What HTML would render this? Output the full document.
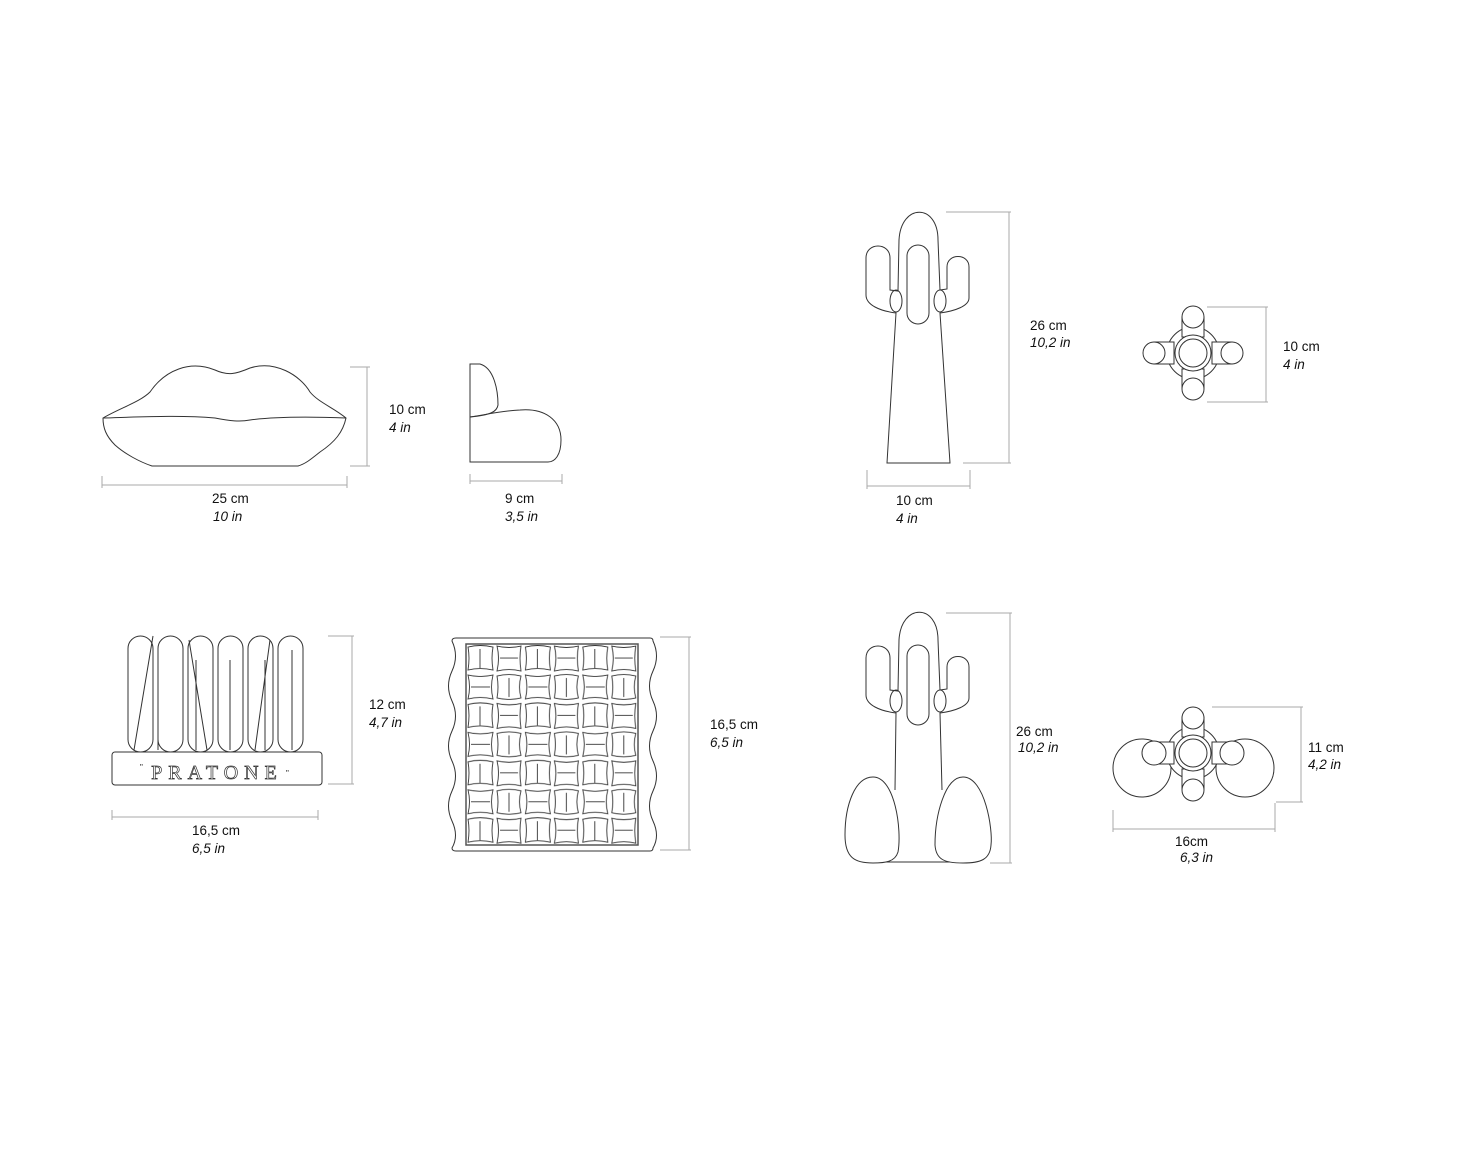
<!DOCTYPE html>
<html><head><meta charset="utf-8"><style>
html,body{margin:0;padding:0;background:#fff}
svg{display:block}
text{font-family:"Liberation Sans",sans-serif;font-size:13.5px;fill:#111}
.i{font-style:italic}
.s{fill:none;stroke:#333;stroke-width:1}
.d{fill:none;stroke:#aaa;stroke-width:1}
</style></head><body>
<svg width="1477" height="1152" viewBox="0 0 1477 1152">
<defs>
<pattern id="cells" x="466" y="644" width="57.4" height="57.4" patternUnits="userSpaceOnUse">
 <g fill="none" stroke="#333" stroke-width="0.9">
  <path d="M2,3 Q14,0 27,3 Q25,14 27,26 Q14,23 2,26 Q4,14 2,3Z"/><line x1="14" y1="5" x2="14" y2="24"/>
  <path d="M31,2 Q43,5 55,2 Q53,14 55,27 Q43,24 31,27 Q34,14 31,2Z"/><line x1="34" y1="14" x2="52" y2="14"/>
  <path d="M2,31 Q14,34 27,31 Q24,43 27,55 Q14,52 2,55 Q5,43 2,31Z"/><line x1="5" y1="43" x2="24" y2="43"/>
  <path d="M31,32 Q43,29 55,32 Q52,43 55,54 Q43,57 31,54 Q33,43 31,32Z"/><line x1="43" y1="34" x2="43" y2="53"/>
 </g>
</pattern>
</defs>

<!-- Lips -->
<path class="s" d="M103,418 C120,408 140,402 150,392 C165,370 190,360 215,370 C228,376 236,374 250,368 C275,360 300,375 310,392 C318,402 334,408 346,418 C343,432 335,442 320,452 C310,460 305,464 298,466 L152,466 C140,462 125,454 115,445 C106,436 103,428 103,418Z"/>
<path class="s" d="M103,418 C140,417 180,415 215,418 C230,421 240,422 250,420 C280,416 320,417 346,418"/>
<line class="d" x1="367" y1="367" x2="367" y2="466"/><line class="d" x1="350" y1="367" x2="370" y2="367"/><line class="d" x1="350" y1="466" x2="370" y2="466"/>
<line class="d" x1="102" y1="485" x2="347" y2="485"/><line class="d" x1="102" y1="476" x2="102" y2="488"/><line class="d" x1="347" y1="476" x2="347" y2="488"/>
<text x="389" y="414">10 cm</text><text x="389" y="432" class="i">4 in</text>
<text x="212" y="503">25 cm</text><text x="213" y="521" class="i">10 in</text>

<!-- Chair -->
<path class="s" d="M470,417 L470,364 L480,364 C494,368 498,390 498,405 C497,412 490,415 470,417Z"/>
<path class="s" d="M470,417 C490,414 500,411 520,410 C545,408 561,420 561,440 C561,455 555,462 548,462 L470,462Z"/>
<line class="d" x1="470" y1="481" x2="562" y2="481"/><line class="d" x1="470" y1="474" x2="470" y2="484"/><line class="d" x1="562" y1="474" x2="562" y2="484"/>
<text x="505" y="503">9 cm</text><text x="505" y="521" class="i">3,5 in</text>

<!-- Cactus 1 -->
<path class="s" d="M887,463 L896,313 C880,311 866,305 866,295 L866,258 C866,242 890,242 890,258 L890,290 L898,291 L899,240 C901,203 938,203 938,240 L940,290 L947,289 L947,267 C947,253 969,253 969,267 L969,298 C969,306 955,311 940,313 L950,463Z"/>
<ellipse class="s" cx="896" cy="301" rx="6" ry="11"/><ellipse class="s" cx="940" cy="301" rx="6" ry="11"/>
<rect class="s" x="907" y="245" width="22" height="79" rx="11"/>
<line class="d" x1="1009" y1="212" x2="1009" y2="463"/><line class="d" x1="946" y1="212" x2="1011" y2="212"/><line class="d" x1="963" y1="463" x2="1011" y2="463"/>
<line class="d" x1="867" y1="486" x2="970" y2="486"/><line class="d" x1="867" y1="470" x2="867" y2="489"/><line class="d" x1="970" y1="470" x2="970" y2="489"/>
<text x="1030" y="330">26 cm</text><text x="1030" y="347" class="i">10,2 in</text>
<text x="896" y="505">10 cm</text><text x="896" y="523" class="i">4 in</text>

<!-- Top view 1 -->
<g class="s">
<circle cx="1193" cy="353" r="26"/>
<rect x="1182" y="317" width="22" height="20" fill="#fff"/><rect x="1182" y="369" width="22" height="20" fill="#fff"/>
<rect x="1154" y="342" width="20" height="22" fill="#fff"/><rect x="1212" y="342" width="20" height="22" fill="#fff"/>
<circle cx="1193" cy="353" r="18" fill="#fff"/><circle cx="1193" cy="353" r="14"/>
<circle cx="1193" cy="317" r="11" fill="#fff"/><circle cx="1193" cy="389" r="11" fill="#fff"/>
<circle cx="1154" cy="353" r="11" fill="#fff"/><circle cx="1232" cy="353" r="11" fill="#fff"/>
</g>
<line class="d" x1="1266" y1="307" x2="1266" y2="402"/><line class="d" x1="1207" y1="307" x2="1268" y2="307"/><line class="d" x1="1207" y1="402" x2="1268" y2="402"/>
<text x="1283" y="351">10 cm</text><text x="1283" y="369" class="i">4 in</text>

<!-- Pratone -->
<g class="s">
<rect x="128" y="636" width="25" height="116" rx="12.5"/>
<rect x="158" y="636" width="25" height="116" rx="12.5"/>
<rect x="188" y="636" width="25" height="116" rx="12.5"/>
<rect x="218" y="636" width="25" height="116" rx="12.5"/>
<rect x="248" y="636" width="25" height="116" rx="12.5"/>
<rect x="278" y="636" width="25" height="116" rx="12.5"/>
<path d="M153,636 L134,750 M189,640 L207,750 M158,650 L158,750 M230,660 L230,750 M270,640 L255,750 M265,660 L265,750 M292,650 L292,750 M196,660 L196,750"/>
<rect x="112" y="752" width="210" height="33" rx="3" fill="#fff"/>
</g>
<text x="217" y="779" text-anchor="middle" style="font-family:'Liberation Serif',serif;font-size:20px;letter-spacing:6px;fill:none;stroke:#333;stroke-width:0.7">PRATONE</text>
<text x="140" y="770" style="font-size:8px">"</text><text x="286" y="776" style="font-size:8px">"</text>
<line class="d" x1="352" y1="636" x2="352" y2="784"/><line class="d" x1="328" y1="636" x2="354" y2="636"/><line class="d" x1="328" y1="784" x2="354" y2="784"/>
<line class="d" x1="112" y1="817" x2="318" y2="817"/><line class="d" x1="112" y1="810" x2="112" y2="820"/><line class="d" x1="318" y1="810" x2="318" y2="820"/>
<text x="369" y="709">12 cm</text><text x="369" y="727" class="i">4,7 in</text>
<text x="192" y="835">16,5 cm</text><text x="192" y="853" class="i">6,5 in</text>

<!-- Grid piece -->
<path class="s" d="M456,638 L650,638 Q653,638 653,641 Q660,656 653,671 Q646,686 653,701 Q660,716 653,731 Q646,746 653,761 Q660,776 653,791 Q646,806 653,821 Q660,836 653,848 Q653,851 650,851 L456,851 Q452,851 452,848 Q459,836 452,821 Q445,806 452,791 Q459,776 452,761 Q445,746 452,731 Q459,716 452,701 Q445,686 452,671 Q459,656 452,641 Q452,638 456,638Z"/>
<rect x="466" y="644" width="172" height="201" fill="url(#cells)" stroke="#555" stroke-width="1.5"/>
<line class="d" x1="689" y1="637" x2="689" y2="850"/><line class="d" x1="660" y1="637" x2="691" y2="637"/><line class="d" x1="660" y1="850" x2="691" y2="850"/>
<text x="710" y="729">16,5 cm</text><text x="710" y="747" class="i">6,5 in</text>

<!-- Cactus 2 -->
<path class="s" d="M895,790 L896,713 C880,711 866,705 866,695 L866,658 C866,642 890,642 890,658 L890,690 L898,691 L899,640 C901,603 938,603 938,640 L940,690 L947,689 L947,667 C947,653 969,653 969,667 L969,698 C969,706 955,711 940,713 L942,790"/>
<line class="s" x1="886" y1="862" x2="950" y2="862"/>
<ellipse class="s" cx="896" cy="701" rx="6" ry="11"/><ellipse class="s" cx="940" cy="701" rx="6" ry="11"/>
<rect class="s" x="907" y="645" width="22" height="80" rx="11"/>
<path class="s" d="M873,777 C895,777 902,830 898,852 C895,862 885,863 873,863 C855,863 845,858 845,835 C845,805 855,777 873,777Z" fill="#fff"/>
<path class="s" d="M963,777 C985,777 993,830 991,845 C990,860 980,863 963,863 C945,863 936,860 935,845 C935,815 945,777 963,777Z" fill="#fff"/>
<line class="d" x1="1010" y1="613" x2="1010" y2="863"/><line class="d" x1="946" y1="613" x2="1012" y2="613"/><line class="d" x1="990" y1="863" x2="1012" y2="863"/>
<text x="1016" y="736">26 cm</text><text x="1018" y="752" class="i">10,2 in</text>

<!-- Top view 2 -->
<g class="s">
<circle cx="1142" cy="768" r="29"/><circle cx="1245" cy="768" r="29"/>
<circle cx="1193" cy="753" r="26" fill="#fff"/>
<rect x="1182" y="717" width="22" height="20" fill="#fff"/><rect x="1182" y="769" width="22" height="20" fill="#fff"/>
<rect x="1154" y="742" width="20" height="22" fill="#fff"/><rect x="1212" y="742" width="20" height="22" fill="#fff"/>
<circle cx="1193" cy="753" r="18" fill="#fff"/><circle cx="1193" cy="753" r="14"/>
<circle cx="1193" cy="718" r="11" fill="#fff"/><circle cx="1193" cy="790" r="11" fill="#fff"/>
<circle cx="1154" cy="753" r="12" fill="#fff"/><circle cx="1232" cy="753" r="12" fill="#fff"/>
</g>
<line class="d" x1="1301" y1="707" x2="1301" y2="802"/><line class="d" x1="1212" y1="707" x2="1303" y2="707"/><line class="d" x1="1276" y1="802" x2="1303" y2="802"/>
<line class="d" x1="1113" y1="829" x2="1275" y2="829"/><line class="d" x1="1113" y1="810" x2="1113" y2="832"/><line class="d" x1="1275" y1="803" x2="1275" y2="832"/>
<text x="1308" y="752">11 cm</text><text x="1308" y="769" class="i">4,2 in</text>
<text x="1175" y="846">16cm</text><text x="1180" y="862" class="i">6,3 in</text>
</svg>
</body></html>
